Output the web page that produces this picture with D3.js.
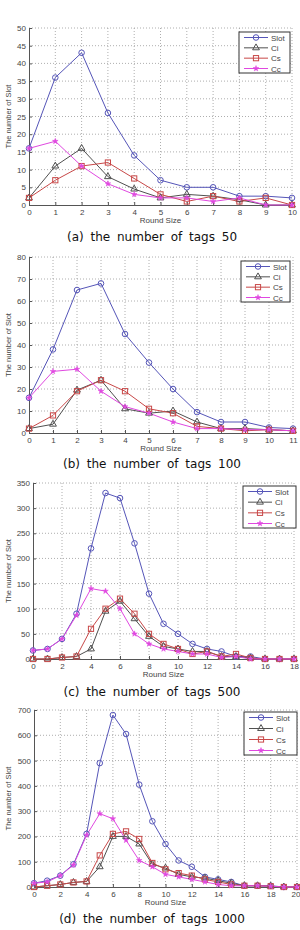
<!DOCTYPE html>
<html><head><meta charset="utf-8">
<script src="https://cdn.jsdelivr.net/npm/d3@7"></script>
<style>
body{margin:0;background:#fff;}
svg{display:block;font-family:"Liberation Sans",Arial,sans-serif;}
</style></head><body>
<svg id="c" width="300" height="930"></svg>
<script>
const seriesNames = ["Slot", "Ci", "Cs", "Cc"];

// (a) tags 50
const xA = [0,1,2,3,4,5,6,7,8,9,10];
const slotA = [16,36,43,26,14,7,5,5,2.5,2.5,2];
const ciA   = [2,11,16,8,4.5,2,3,2.5,1.5,0,0];
const csA   = [2,7,11,12,7.5,3,1,2.5,1,2,0];
const ccA   = [16,18,11,6,3,2,2,1,2,0,0];
const yTicksA = [0,5,10,15,20,25,30,35,40,45,50];
const xTicksA = [0,1,2,3,4,5,6,7,8,9,10];

// (b) tags 100
const xB = [0,1,2,3,4,5,6,7,8,9,10,11];
const slotB = [16,38,65,68,45,32,20,9.5,5,5,2.5,2];
const ciB   = [2,4,19.5,24,11,9,10,5,2,2,1.5,1];
const csB   = [2,8,19,24,19,11,9,3,2,1,1.5,1];
const ccB   = [16,28,29,19,12,9,5,2,2,1.5,1.5,1];
const yTicksB = [0,10,20,30,40,50,60,70,80];
const xTicksB = [0,1,2,3,4,5,6,7,8,9,10,11];

// (c) tags 500
const xC = [0,1,2,3,4,5,6,7,8,9,10,11,12,13,14,15,16,17,18];
const slotC = [17,20,40,90,220,330,320,230,130,70,50,30,20,15,5,5,0,0,0];
const ciC   = [0,0,3,5,20,95,115,80,45,25,20,15,15,5,5,2,0,0,0];
const csC   = [0,0,3,5,60,100,120,90,50,30,20,10,15,5,10,2,0,0,0];
const ccC   = [17,20,40,87,140,135,100,50,30,20,15,10,10,3,5,0,0,0,0];
const yTicksC = [0,50,100,150,200,250,300,350];
const xTicksC = [0,2,4,6,8,10,12,14,16,18];

// (d) tags 1000
const xD = [0,1,2,3,4,5,6,7,8,9,10,11,12,13,14,15,16,17,18,19,20];
const slotD = [15,25,45,90,210,490,680,605,405,260,170,105,80,40,30,20,5,5,5,0,0];
const ciD   = [0,5,10,18,22,80,200,200,170,90,75,50,40,35,25,15,5,5,3,0,0];
const csD   = [0,5,10,18,22,125,210,220,190,95,70,55,45,30,20,10,5,5,3,0,0];
const ccD   = [15,20,45,87,205,290,270,185,105,80,50,40,30,20,10,5,5,5,3,0,0];
const yTicksD = [0,100,200,300,400,500,600,700];
const xTicksD = [0,2,4,6,8,10,12,14,16,18,20];

const captions = ["(a) the number of tags 50","(b) the number of tags 100","(c) the number of tags 500","(d) the number of tags 1000"];

const colors = {Slot:"#5555b8", Ci:"#505050", Cs:"#c84848", Cc:"#e048e0"};

const panels = [
  {x:xA, s:[slotA,ciA,csA,ccA], yt:yTicksA, xt:xTicksA, L:29, R:292, T:28, B:205, leg:[239,32,51,41], cap:241},
  {x:xB, s:[slotB,ciB,csB,ccB], yt:yTicksB, xt:xTicksB, L:29, R:293, T:257, B:433, leg:[241,261,49,41], cap:468},
  {x:xC, s:[slotC,ciC,csC,ccC], yt:yTicksC, xt:xTicksC, L:33, R:294, T:483, B:659, leg:[243,486,53,42], cap:696},
  {x:xD, s:[slotD,ciD,csD,ccD], yt:yTicksD, xt:xTicksD, L:34, R:297, T:710, B:887, leg:[244,712,53,43], cap:923}
];

const svg = d3.select("#c");

function marker(g, name, cx, cy){
  const col = colors[name];
  if(name==="Slot"){
    g.append("circle").attr("cx",cx).attr("cy",cy).attr("r",2.8).attr("fill","none").attr("stroke",col).attr("stroke-width",1);
  } else if(name==="Ci"){
    g.append("path").attr("d",d3.symbol(d3.symbolTriangle,20)()).attr("transform",`translate(${cx},${cy})`).attr("fill","none").attr("stroke",col).attr("stroke-width",1);
  } else if(name==="Cs"){
    g.append("rect").attr("x",cx-2.6).attr("y",cy-2.6).attr("width",5.2).attr("height",5.2).attr("fill","none").attr("stroke",col).attr("stroke-width",1);
  } else {
    g.append("path").attr("d",d3.symbol(d3.symbolStar,10)()).attr("transform",`translate(${cx},${cy})`).attr("fill",col).attr("stroke",col).attr("stroke-width",0.5);
  }
}

panels.forEach((p,pi)=>{
  const g = svg.append("g");
  const xs = d3.scaleLinear().domain([p.xt[0], p.xt[p.xt.length-1]]).range([p.L,p.R]);
  const ys = d3.scaleLinear().domain([p.yt[0], p.yt[p.yt.length-1]]).range([p.B,p.T]);

  // grid
  g.append("g").selectAll("line.gx").data(p.xt.slice(1)).join("line")
    .attr("x1",d=>xs(d)).attr("x2",d=>xs(d)).attr("y1",p.T).attr("y2",p.B)
    .attr("stroke","#999").attr("stroke-width",0.8).attr("stroke-dasharray","1,2");
  g.append("g").selectAll("line.gy").data(p.yt.slice(1)).join("line")
    .attr("x1",p.L).attr("x2",p.R).attr("y1",d=>ys(d)).attr("y2",d=>ys(d))
    .attr("stroke","#999").attr("stroke-width",0.8).attr("stroke-dasharray","1,2");

  // axes
  const ax = g.append("g").attr("transform",`translate(0,${p.B})`)
    .call(d3.axisBottom(xs).tickValues(p.xt).tickSize(-3).tickPadding(4).tickFormat(d3.format("d")));
  const ay = g.append("g").attr("transform",`translate(${p.L},0)`)
    .call(d3.axisLeft(ys).tickValues(p.yt).tickSize(-3).tickPadding(3).tickFormat(d3.format("d")));
  [ax,ay].forEach(a=>{
    a.select(".domain").attr("stroke","#555");
    a.selectAll(".tick line").attr("stroke","#555");
    a.selectAll("text").attr("fill","#444").attr("font-size",8).attr("font-family","Liberation Sans, Arial, sans-serif");
  });
  // keep the last x tick label inside the picture
  ax.selectAll(".tick text").filter(d=>xs(d)>294).attr("text-anchor","end").attr("dx",3);

  // lines + markers
  p.s.forEach((vals,si)=>{
    const name = seriesNames[si];
    const line = d3.line().x((d,i)=>xs(p.x[i])).y(d=>ys(d));
    g.append("path").datum(vals).attr("d",line).attr("fill","none").attr("stroke",colors[name]).attr("stroke-width",1);
  });
  p.s.forEach((vals,si)=>{
    const name = seriesNames[si];
    vals.forEach((v,i)=>marker(g,name,xs(p.x[i]),ys(v)));
  });

  // axis labels
  g.append("text").attr("x",(p.L+p.R)/2).attr("y",p.B+18).attr("text-anchor","middle")
    .attr("font-size",8).attr("fill","#444").text("Round Size");
  g.append("text").attr("transform",`translate(11,${(p.T+p.B)/2}) rotate(-90)`).attr("text-anchor","middle")
    .attr("font-size",7.5).attr("fill","#444").text("The number of Slot");

  // legend
  const [lx,ly,lw,lh] = p.leg;
  const lg = g.append("g");
  lg.append("rect").attr("x",lx).attr("y",ly).attr("width",lw).attr("height",lh).attr("fill","#fff").attr("stroke","#333").attr("stroke-width",1);
  seriesNames.forEach((name,k)=>{
    const yy = ly + 5.5 + k*(lh-10)/3;
    lg.append("line").attr("x1",lx+5).attr("x2",lx+29).attr("y1",yy).attr("y2",yy).attr("stroke",colors[name]).attr("stroke-width",1);
    marker(lg,name,lx+17,yy);
    lg.append("text").attr("x",lx+32).attr("y",yy+3).attr("font-size",8).attr("fill","#444").text(name);
  });

  // caption
  svg.append("text").attr("x",152).attr("y",p.cap).attr("text-anchor","middle")
    .attr("font-size",12).attr("word-spacing",3).attr("fill","#111")
    .attr("font-family","DejaVu Sans, sans-serif").text(captions[pi]);
});
</script>
</body></html>
